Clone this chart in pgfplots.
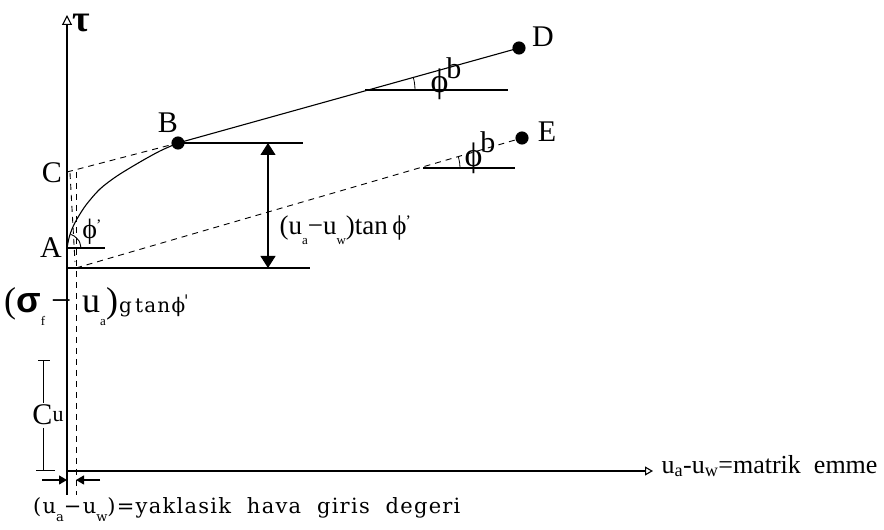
\documentclass[border=0pt]{standalone}
\usepackage{pgfplots}
\pgfplotsset{compat=1.18}
\usepackage{fontspec}
\setmainfont{Liberation Serif}
\newfontfamily\lsans{Liberation Sans}
\newfontfamily\wide[LetterSpace=6]{DejaVu Serif}
\usetikzlibrary{arrows.meta}

\newcommand{\lo}[1]{\raisebox{-0.35em}{\fontsize{13}{14}\selectfont #1}}
\newcommand{\prm}{\kern-1pt\raisebox{0.3em}{\fontsize{16}{16}\selectfont '}}

\begin{document}
\begin{tikzpicture}
\begin{axis}[
  scale only axis, width=884pt, height=530pt,
  xmin=0, xmax=884, ymin=0, ymax=530,
  hide axis, clip=false,
  cycle list={{black, solid, mark=none, line width=1.1pt}},
  every axis plot/.append style={black, line width=1.1pt, mark=none},
  dsh/.style={dash pattern=on 6pt off 5pt, line width=0.9pt},
]
% fixed drawing area
\path (axis cs:0,0) rectangle (axis cs:884,530);

% axes
\addplot[-{Triangle[open,width=10pt,length=10pt]}] coordinates {(67,35) (67,515)};
\addplot[-{Triangle[open,width=9pt,length=8pt]}] coordinates {(67,59) (653,59)};

% dashed guides at the air entry value
\addplot[dsh] coordinates {(76,358) (76,35)};
\addplot[dsh] coordinates {(70,357) (75,268)};

% horizontal reference lines
\addplot[solid] coordinates {(67,262) (310,262)};
\addplot[solid] coordinates {(67,282) (105,282)};
\addplot[solid] coordinates {(178,387) (303,387)};
\addplot[solid] coordinates {(365,440) (508,440)};
\addplot[solid] coordinates {(423,362) (515,362)};

% failure envelope: curved part A-B, straight part B-D
\addplot[smooth] coordinates {(67,282) (69,292) (72,301) (77,311) (86,325) (100,341) (117,354) (140,368) (160,379) (178,387)};
\addplot[solid] coordinates {(178,387) (519,482)};
% extrapolated lines
\addplot[dsh] coordinates {(67,358) (178,387)};
\addplot[dsh] coordinates {(76,262) (522,392)};

% angle arcs
\addplot[smooth, line width=0.8pt] coordinates {(415,440) (414.8,444.1) (414.3,448.2) (413.3,452.6)};
\addplot[smooth, line width=0.8pt] coordinates {(460,362) (459.6,367.4) (458.4,372.9)};
\addplot[smooth, line width=0.9pt] coordinates {(81,282) (79.1,289) (74,294.1) (70.6,295.5)};

% points B, D, E
\addplot[only marks, mark=*, mark size=6pt] coordinates {(178,387) (519,482) (522,392)};

% dimension arrows
\addplot[{Triangle[width=15pt,length=12pt]}-{Triangle[width=15pt,length=12pt]}] coordinates {(268,387) (268,262)};
\addplot[-{Triangle[width=9pt,length=8pt]}] coordinates {(42,50) (67,50)};
\addplot[-{Triangle[width=9pt,length=8pt]}] coordinates {(100,50) (76,50)};

% cohesion bracket
\addplot[line width=0.9pt] coordinates {(43,127) (43,170)};
\addplot[line width=0.9pt] coordinates {(38,170) (50,170)};
\addplot[line width=0.9pt] coordinates {(43,102) (43,60)};
\addplot[line width=0.9pt] coordinates {(36,60) (55,60)};

% labels
\node[font=\fontsize{38}{40}\selectfont\bfseries] at (axis cs:81,507) {τ};
\node[font=\fontsize{30}{32}\selectfont] at (axis cs:51,282) {A};
\node[font=\fontsize{30}{32}\selectfont] at (axis cs:52,357) {C};
\node[font=\fontsize{30}{32}\selectfont] at (axis cs:168,407) {B};
\node[font=\fontsize{30}{32}\selectfont] at (axis cs:543,493) {D};
\node[font=\fontsize{30}{32}\selectfont] at (axis cs:547,398) {E};

\node[font=\fontsize{28}{30}\selectfont] at (axis cs:92,298) {ϕ\prm};
\node[font=\fontsize{34}{36}\selectfont] at (axis cs:446,451) {ϕ\kern-2pt\raisebox{0.42em}{\fontsize{30}{30}\selectfont b}};
\node[font=\fontsize{34}{36}\selectfont] at (axis cs:480,377) {ϕ\kern-2pt\raisebox{0.42em}{\fontsize{30}{30}\selectfont b}};

\node[anchor=west, font=\fontsize{27}{29}\selectfont] at (axis cs:276,300)
  {(u\lo{a}−u\lo{w})tan\,ϕ\prm};

\node[anchor=base west, inner sep=0pt] at (axis cs:4,217)
  {\fontsize{36}{38}\selectfont (\raisebox{0.02em}{\lsans\bfseries σ}\lo{f}\,−\hspace{0.3em}u\lo{a})\hspace{1pt}{\fontsize{20}{22}\selectfont\wide g\,tanϕ\prm}};

\node[font=\fontsize{30}{32}\selectfont] at (axis cs:48,115) {C\raisebox{0.1em}{\fontsize{22}{24}\selectfont u}};

\node[anchor=west, font=\fontsize{26}{28}\selectfont] at (axis cs:658,64)
  {u\textsubscript{a}-u\textsubscript{w}=matrik\ \ emme};

\node[anchor=base west, inner sep=0pt, font=\fontsize{21}{23}\selectfont\wide] at (axis cs:33,16)
  {(u\lo{a}−u\lo{w})=yaklasik\ \ hava\ \ giris\ \ degeri};
\end{axis}
\end{tikzpicture}
\end{document}
